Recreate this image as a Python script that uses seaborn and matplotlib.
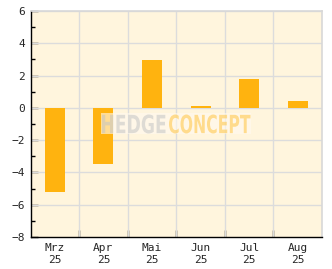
import matplotlib
matplotlib.use("Agg")
import matplotlib.pyplot as plt
import seaborn as sns
import pandas as pd
from matplotlib.ticker import MultipleLocator, FixedLocator
from matplotlib.textpath import TextPath
from matplotlib.patches import PathPatch, Rectangle
from matplotlib.font_manager import FontProperties
from matplotlib.transforms import Affine2D, IdentityTransform

months = ["Mrz\n25", "Apr\n25", "Mai\n25", "Jun\n25", "Jul\n25", "Aug\n25"]
values = [-5.19, -3.46, 2.97, 0.12, 1.79, 0.43]

sns.set_theme(style="white")
plt.rcParams['font.family'] = ['DejaVu Sans Mono', 'DejaVu Sans']

df = pd.DataFrame({"month": months, "value": values})

W, H = 332, 269
fig = plt.figure(figsize=(W/100, H/100), dpi=100)
ax = fig.add_axes([30.5/W, 32/H, (322-30.5)/W, (237-11)/H])
ax.set_facecolor("#fff5dd")

sns.barplot(data=df, x="month", y="value", color="#ffb30f", saturation=1,
            width=0.41, linewidth=0, edgecolor="none", ax=ax, zorder=3)

ax.set_xlim(-0.5, 5.5)
ax.set_ylim(-8, 6)
ax.yaxis.set_major_locator(MultipleLocator(2))
ax.yaxis.set_minor_locator(MultipleLocator(1))
ax.xaxis.set_minor_locator(FixedLocator([0.5, 1.5, 2.5, 3.5, 4.5]))

ax.grid(False)
for y in range(-6, 7, 2):
    ax.axhline(y, color="#dcdcdc", lw=1, zorder=1)
for x in [0.5, 1.5, 2.5, 3.5, 4.5]:
    ax.axvline(x, color="#dcdcdc", lw=1, zorder=1)

ax.tick_params(axis="y", which="major", direction="in", length=5, width=1,
               color="black", labelsize=8, pad=4, left=True)
ax.tick_params(axis="y", which="minor", direction="in", length=3, width=1,
               color="black", left=True)
ax.tick_params(axis="x", which="major", length=0, labelsize=8, pad=4)
ax.tick_params(axis="x", which="minor", direction="in", length=5, width=1,
               color="black", bottom=True)
ax.set_yticklabels([f"{int(t)}".replace("-", "\u2212") for t in ax.get_yticks()])
for lbl in ax.get_xticklabels():
    lbl.set_linespacing(1.3)

ax.set_xlabel("")
ax.set_ylabel("")

for s in ["left", "bottom"]:
    ax.spines[s].set_color("black")
    ax.spines[s].set_linewidth(1)
for s in ["top", "right"]:
    ax.spines[s].set_color("#d8d8d8")
    ax.spines[s].set_linewidth(1.2)
for s in ax.spines.values():
    s.set_zorder(5)

# watermark (pixel boxes, y measured from top)
fp = FontProperties(family="DejaVu Sans Condensed", weight="bold")
def stamp(txt, x0, x1, ytop, ybot, color, alpha):
    tp = TextPath((0, 0), txt, size=20, prop=fp)
    bb = tp.get_extents()
    sx = (x1 - x0) / bb.width
    sy = (ybot - ytop) / bb.height
    tr = (Affine2D().translate(-bb.x0, -bb.y0).scale(sx, sy)
          .translate(x0, H - ybot))
    patch = PathPatch(tr.transform_path(tp), facecolor=color, edgecolor="none",
                      alpha=alpha, transform=IdentityTransform(), zorder=6)
    fig.add_artist(patch)

fig.add_artist(Rectangle((101, H - 134), 150, 21, facecolor="#fffaf0",
                         edgecolor="none", alpha=0.6,
                         transform=IdentityTransform(), zorder=5.5))
stamp("HEDGE", 102, 165.5, 114.5, 133.5, "#c4c4c4", 0.55)
stamp("CONCEPT", 169, 250.5, 114.5, 133.5, "#ffc94f", 0.6)

fig.savefig("out.png", dpi=100)
